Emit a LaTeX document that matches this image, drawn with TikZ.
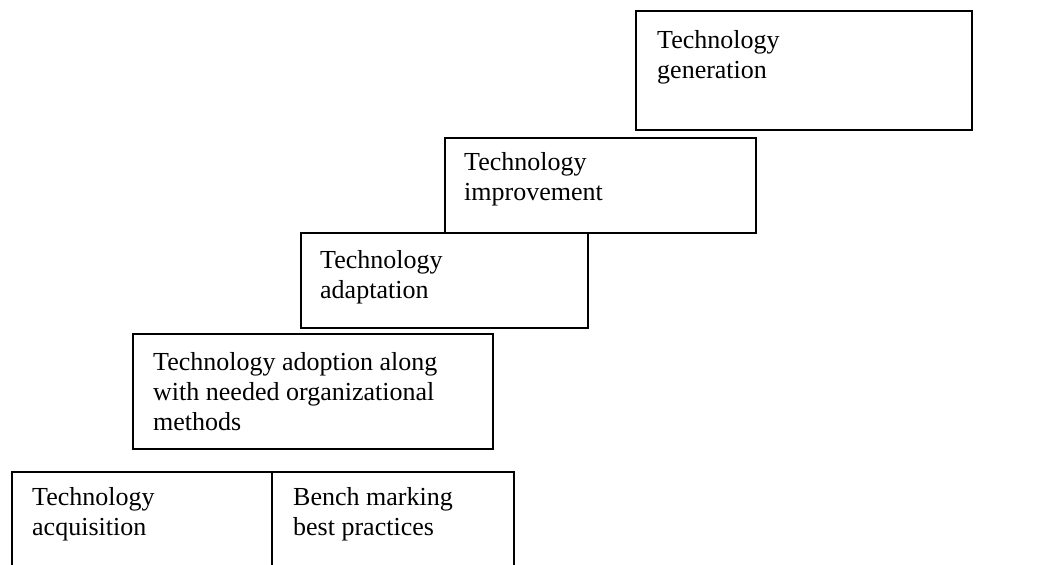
\documentclass[tikz,border=0pt]{standalone}
\usepackage{fontspec}
\setmainfont{Liberation Serif}
\begin{document}
\begin{tikzpicture}[x=1pt,y=-1pt,
  frame/.style={draw=black,line width=1.6pt},
  box/.style={frame,rectangle,inner sep=0pt,anchor=north west},
  txt/.style={inner sep=0pt,anchor=north west,align=left,
    font=\fontsize{26}{30}\selectfont}]
\useasboundingbox (0,0) rectangle (1042,565);

% staircase of stages
\node[box,minimum width=336pt,minimum height=119pt] (gen) at (635,10) {};
\node[box,minimum width=311pt,minimum height=95pt] (imp) at (444,137) {};
\node[box,minimum width=287pt,minimum height=95pt] (ada) at (300,232) {};
\node[box,minimum width=360pt,minimum height=115pt] (ado) at (132,333) {};

\node[txt] (gent) at (657,30.5) {Technology\\generation};
\node[txt] (impt) at (464,152.5) {Technology\\improvement};
\node[txt] (adat) at (320,250.5) {Technology\\adaptation};
\node[txt] (adot) at (153,352.5) {Technology adoption along\\with needed organizational\\methods};

% open-bottomed base step, split in two
\coordinate (bl) at (12,565);
\coordinate (bm) at (272,565);
\coordinate (br) at (514,565);
\draw[frame] (bl) |- (514,472) -- (br);
\draw[frame] (272,472) -- (bm);
\node[txt] (acq) at (32,487.5) {Technology\\acquisition};
\node[txt] (bench) at (293,487.5) {Bench marking\\best practices};
\end{tikzpicture}
\end{document}
